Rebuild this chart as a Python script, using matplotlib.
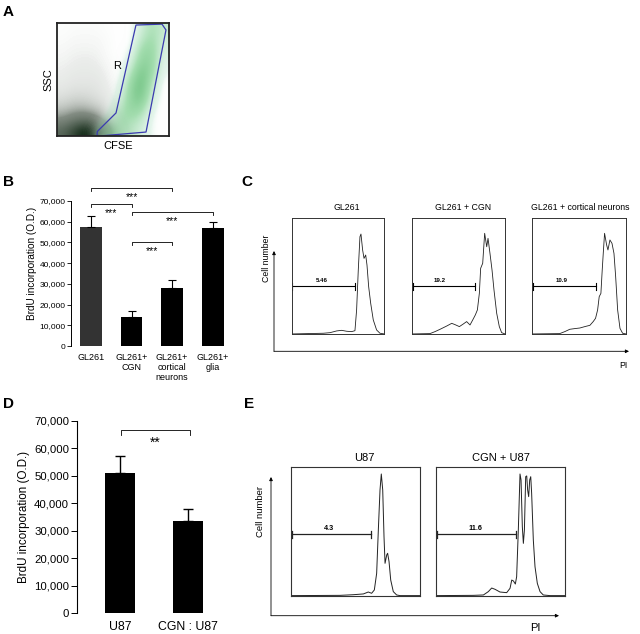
import matplotlib
matplotlib.use("Agg")
import matplotlib.pyplot as plt
import numpy as np
from matplotlib.colors import LinearSegmentedColormap

plt.rcParams['font.family'] = ['Liberation Sans', 'DejaVu Sans']

# ---------------- DATA ----------------
# Panel A: estimated dot density (rows: SSC low->high, cols: CFSE low->high)
a_black = [
    [0.60, 0.80, 1.00, 0.90, 0.50, 0.15, 0.05, 0.02, 0.00, 0.00],
    [0.35, 0.45, 0.50, 0.40, 0.25, 0.08, 0.03, 0.01, 0.00, 0.00],
    [0.20, 0.25, 0.25, 0.20, 0.12, 0.05, 0.02, 0.00, 0.00, 0.00],
    [0.12, 0.15, 0.15, 0.12, 0.08, 0.03, 0.01, 0.00, 0.00, 0.00],
    [0.08, 0.10, 0.10, 0.10, 0.06, 0.03, 0.01, 0.00, 0.00, 0.00],
    [0.06, 0.08, 0.08, 0.08, 0.05, 0.02, 0.00, 0.00, 0.00, 0.00],
    [0.05, 0.06, 0.07, 0.06, 0.04, 0.02, 0.00, 0.00, 0.00, 0.00],
    [0.04, 0.05, 0.05, 0.05, 0.03, 0.01, 0.00, 0.00, 0.00, 0.00],
    [0.03, 0.04, 0.04, 0.04, 0.03, 0.01, 0.00, 0.00, 0.00, 0.00],
    [0.02, 0.03, 0.03, 0.03, 0.02, 0.01, 0.00, 0.00, 0.00, 0.00],
]
a_green = [
    [0, 0, 0, 0.05, 0.30, 0.35, 0.30, 0.20, 0.05, 0],
    [0, 0, 0, 0.00, 0.10, 0.35, 0.40, 0.30, 0.05, 0],
    [0, 0, 0, 0, 0.00, 0.25, 0.50, 0.50, 0.10, 0],
    [0, 0, 0, 0, 0, 0.10, 0.50, 0.70, 0.20, 0],
    [0, 0, 0, 0, 0, 0.05, 0.45, 0.75, 0.30, 0],
    [0, 0, 0, 0, 0, 0.00, 0.30, 0.70, 0.45, 0.05],
    [0, 0, 0, 0, 0, 0, 0.15, 0.55, 0.50, 0.10],
    [0, 0, 0, 0, 0, 0, 0.05, 0.45, 0.50, 0.15],
    [0, 0, 0, 0, 0, 0, 0.00, 0.30, 0.45, 0.20],
    [0, 0, 0, 0, 0, 0, 0.00, 0.20, 0.40, 0.25],
]
gate_x = [0.357, 0.36, 0.527, 0.705, 0.9375, 0.973, 0.795, 0.38]
gate_y = [0.009, 0.04, 0.204, 0.982, 0.99, 0.938, 0.035, 0.0]

# Panel B
b_cats = ["GL261", "GL261+\nCGN", "GL261+\ncortical\nneurons", "GL261+\nglia"]
b_vals = [57500, 14000, 28000, 57000]
b_errs = [5500, 3000, 4000, 3000]
b_colors = ["#333333", "#000000", "#000000", "#000000"]
b_sig = [(0, 2, 76400, "***"), (0, 1, 68550, "***"), (1, 3, 64700, "***"), (1, 2, 50200, "***")]

# Panel C (PI channel, % of max)
c_titles = ["GL261", "GL261 + CGN", "GL261 + cortical neurons"]
c1_x = [0, 342, 414, 486, 540, 594, 647, 683, 701, 719, 737, 748, 766, 781, 799, 813, 831, 853, 881, 917, 953, 1000]
c1_y = [0.3, 0.9, 1.4, 2.9, 3.4, 2.6, 2.3, 3.1, 20.9, 55.1, 83.7, 86.0, 72.3, 65.1, 68.0, 59.4, 40.9, 26.6, 12.3, 3.7, 0.9, 0.3]
c2_x = [0, 196, 250, 304, 375, 429, 464, 511, 554, 589, 625, 654, 682, 704, 725, 739, 761, 782, 804, 818, 839, 861, 882, 911, 939, 964, 1000]
c2_y = [0.3, 0.6, 2.3, 4.3, 7.1, 9.4, 8.3, 6.6, 8.9, 10.9, 8.0, 12.3, 16.6, 20.9, 35.1, 56.6, 60.9, 86.6, 75.1, 82.3, 69.4, 55.1, 38.0, 18.0, 6.6, 1.4, 0.3]
c3_x = [0, 295, 349, 402, 456, 509, 562, 616, 651, 676, 698, 715, 733, 747, 758, 772, 794, 808, 829, 851, 872, 890, 911, 936, 964, 1000]
c3_y = [0.3, 0.6, 2.3, 4.3, 4.9, 5.4, 6.6, 7.7, 10.9, 13.7, 20.9, 32.3, 35.1, 55.1, 69.4, 86.6, 76.6, 72.3, 80.9, 78.0, 69.4, 49.4, 20.9, 5.1, 0.9, 0.3]
c_gates = [(7, 683), (11, 679), (11, 676)]
c_gate_level = 41.4
c_gate_labels = ["5.46", "19.2", "10.9"]
c_gate_label_x = [324, 303, 319]

# Panel D
d_cats = ["U87", "CGN : U87"]
d_vals = [51000, 33700]
d_errs = [6300, 4300]
d_sig = (0, 1, 66700, "**")

# Panel E
e_titles = ["U87", "CGN + U87"]
e1_x = [0, 380, 483, 561, 599, 625, 646, 664, 677, 690, 700, 711, 721, 729, 742, 749, 760, 773, 793, 819, 845, 1000]
e1_y = [0.3, 0.5, 1.0, 1.6, 3.1, 2.1, 4.7, 17.6, 51.3, 82.4, 94.8, 82.4, 46.1, 25.4, 31.9, 33.2, 26.7, 12.4, 3.4, 0.8, 0.3, 0.3]
e2_x = [0, 291, 369, 407, 433, 459, 497, 549, 575, 588, 601, 616, 626, 639, 652, 660, 670, 678, 686, 696, 704, 711, 719, 727, 735, 742, 755, 768, 786, 807, 832, 884, 1000]
e2_y = [0.3, 0.5, 0.8, 3.4, 6.2, 5.2, 3.1, 2.6, 6.0, 12.4, 11.7, 9.3, 15.0, 51.3, 94.8, 90.2, 53.9, 40.9, 51.3, 92.7, 93.3, 82.4, 77.2, 90.2, 92.7, 79.8, 43.5, 22.8, 9.8, 3.4, 0.8, 0.3, 0.3]
e_gates = [(5, 620), (8, 622)]
e_gate_level = 47.9
e_gate_labels = ["4.3", "11.6"]
e_gate_label_x = [297, 304]

# ---------------- FIGURE ----------------
W, H = 640, 634
fig = plt.figure(figsize=(6.4, 6.34), dpi=100)


def pax(x0, y0, x1, y1):
    return fig.add_axes([x0 / W, 1 - y1 / H, (x1 - x0) / W, (y1 - y0) / H])


def sig_bracket(ax, x0, x1, y, drop, label, fs, off):
    ax.plot([x0, x0, x1, x1], [y - drop, y, y, y - drop], color='k', lw=0.6, clip_on=False)
    ax.annotate(label, xy=((x0 + x1) / 2, y), xytext=(0, -off), textcoords='offset points',
                ha='center', va='baseline', fontsize=fs, annotation_clip=False)


# ---- Panel A ----
axA = pax(57, 23, 169, 136)
cm_black = LinearSegmentedColormap.from_list(
    'blk', [(0.0, (1, 1, 1, 0)), (0.06, (0.72, 0.75, 0.72, 0.28)), (0.35, (0.35, 0.4, 0.35, 0.75)),
            (1.0, (0.02, 0.12, 0.04, 1))])
cm_green = LinearSegmentedColormap.from_list(
    'grn', [(0.0, (1, 1, 1, 0)), (0.08, (0.72, 0.9, 0.8, 0.35)), (0.4, (0.45, 0.8, 0.52, 0.65)),
            (1.0, (0.15, 0.6, 0.25, 0.92))])
axA.imshow(np.array(a_black), extent=(0, 1, 0, 1), origin='lower', cmap=cm_black, vmin=0, vmax=1,
           interpolation='bicubic', aspect='auto')
axA.imshow(np.array(a_green), extent=(0, 1, 0, 1), origin='lower', cmap=cm_green, vmin=0, vmax=1,
           interpolation='bicubic', aspect='auto')
axA.fill(gate_x, gate_y, fill=False, edgecolor='#3a3ab0', lw=0.9)
axA.set_xlim(0, 1)
axA.set_ylim(0, 1)
axA.set_xticks([])
axA.set_yticks([])
for s in axA.spines.values():
    s.set_linewidth(1.3)
    s.set_color('#222222')

# ---- Panel B ----
b_ppu = (346 - 201) / 70000.0
b_top = 346 - 80000 * b_ppu
axB = pax(71, b_top, 228, 346)
xb = np.arange(len(b_vals))
axB.bar(xb, b_vals, width=0.54, color=b_colors)
axB.errorbar(xb, b_vals, yerr=[np.zeros(len(b_errs)), b_errs], fmt='none', ecolor='k',
             elinewidth=0.8, capsize=3, capthick=0.8)
axB.set_xlim(-0.494, 3.38)
axB.set_ylim(0, 80000)
for s in ['top', 'right', 'bottom']:
    axB.spines[s].set_visible(False)
axB.spines['left'].set_bounds(0, 70000)
axB.spines['left'].set_linewidth(0.7)
axB.set_yticks(range(0, 70001, 10000))
axB.set_yticklabels([f"{v:,}" if v else "0" for v in range(0, 70001, 10000)], fontsize=6.0)
axB.tick_params(axis='y', length=3, width=0.6, pad=1)
axB.set_xticks(xb)
axB.set_xticklabels(b_cats, fontsize=6.5, linespacing=1.15, va='top')
axB.tick_params(axis='x', length=0, pad=5)
axB.set_ylabel("BrdU incorporation (O.D.)", fontsize=7.2, labelpad=2)
for i0, i1, y, lab in b_sig:
    sig_bracket(axB, i0, i1, y, 1400, lab, 7.5, 8.8)

# ---- Panel C ----
c_boxes = [(291.7, 384.3), (411.7, 505), (532, 626)]
c_curves = [(c1_x, c1_y), (c2_x, c2_y), (c3_x, c3_y)]
c_title_x = [347, 463, 580]
for k, ((x0, x1), (cx, cy)) in enumerate(zip(c_boxes, c_curves)):
    ax = pax(x0, 217.7, x1, 334.3)
    ax.plot(cx, cy, color='#222222', lw=0.6)
    g0, g1 = c_gates[k]
    ax.plot([g0, g1], [c_gate_level, c_gate_level], color='k', lw=0.8)
    ax.plot([g0, g0], [c_gate_level - 3, c_gate_level + 3], color='k', lw=0.8)
    ax.plot([g1, g1], [c_gate_level - 3, c_gate_level + 3], color='k', lw=0.8)
    ax.text(c_gate_label_x[k], c_gate_level + 2.5, c_gate_labels[k], ha='center', va='bottom',
            fontsize=4.4, fontweight='bold')
    ax.set_xlim(0, 1000)
    ax.set_ylim(0, 100)
    ax.set_xticks([])
    ax.set_yticks([])
    for s in ax.spines.values():
        s.set_linewidth(0.7)
        s.set_color('#333333')

# ---- Panel D ----
axD = pax(76.7, 421, 230, 613.3)
xd = np.arange(len(d_vals))
axD.bar(xd, d_vals, width=0.44, color='k')
axD.errorbar(xd, d_vals, yerr=[np.zeros(len(d_errs)), d_errs], fmt='none', ecolor='k',
             elinewidth=1.0, capsize=3.5, capthick=1.0)
axD.set_xlim(-0.637, 1.62)
axD.set_ylim(0, 70000)
for s in ['top', 'right', 'bottom']:
    axD.spines[s].set_visible(False)
axD.spines['left'].set_linewidth(0.8)
axD.set_yticks(range(0, 70001, 10000))
axD.set_yticklabels([f"{v:,}" if v else "0" for v in range(0, 70001, 10000)], fontsize=8.2)
axD.tick_params(axis='y', length=4, width=0.7, pad=1.5)
axD.set_xticks(xd)
axD.set_xticklabels(d_cats, fontsize=8.8)
axD.tick_params(axis='x', length=0, pad=5.5)
axD.set_ylabel("BrdU incorporation (O.D.)", fontsize=8.4, labelpad=3)
sig_bracket(axD, d_sig[0] + 0.01, d_sig[1] + 0.03, d_sig[2], 1800, d_sig[3], 10, 12)

# ---- Panel E ----
e_boxes = [(291, 420), (435.7, 565)]
e_curves = [(e1_x, e1_y), (e2_x, e2_y)]
e_title_x = [364, 500.7]
for k, ((x0, x1), (cx, cy)) in enumerate(zip(e_boxes, e_curves)):
    ax = pax(x0, 467.3, x1, 596)
    ax.plot(cx, cy, color='#222222', lw=0.7)
    g0, g1 = e_gates[k]
    ax.plot([g0, g1], [e_gate_level, e_gate_level], color='#222222', lw=0.9)
    ax.plot([g0, g0], [e_gate_level - 2.5, e_gate_level + 2.5], color='#222222', lw=0.9)
    ax.plot([g1, g1], [e_gate_level - 2.5, e_gate_level + 2.5], color='#222222', lw=0.9)
    ax.text(e_gate_label_x[k], e_gate_level + 2.0, e_gate_labels[k], ha='center', va='bottom',
            fontsize=5.2, fontweight='bold')
    ax.set_xlim(0, 1000)
    ax.set_ylim(0, 100)
    ax.set_xticks([])
    ax.set_yticks([])
    for s in ax.spines.values():
        s.set_linewidth(0.8)
        s.set_color('#333333')

# ---- Overlay (labels, arrows) ----
ov = fig.add_axes([0, 0, 1, 1])
ov.set_xlim(0, W)
ov.set_ylim(H, 0)
ov.axis('off')
ov.patch.set_alpha(0)

for lab, x, y in [("A", 3, 16), ("B", 3, 186), ("C", 241, 186), ("D", 3, 408), ("E", 244, 408)]:
    ov.text(x, y, lab, fontsize=11, fontweight='bold', ha='left', va='baseline')

# A labels
ov.text(48, 80, "SSC", rotation=90, ha='center', va='center', fontsize=8)
ov.text(118, 146, "CFSE", ha='center', va='center', fontsize=8)
ov.text(117, 66, "R", ha='center', va='center', fontsize=8)

# C titles / axes
for t, x in zip(c_titles, c_title_x):
    ov.text(x, 208, t, ha='center', va='center', fontsize=6.3)
ov.annotate("", xy=(274, 251), xytext=(274, 351.3),
            arrowprops=dict(arrowstyle='-|>', lw=0.6, color='k', mutation_scale=5, shrinkA=0, shrinkB=0))
ov.annotate("", xy=(629, 351.3), xytext=(274, 351.3),
            arrowprops=dict(arrowstyle='-|>', lw=0.6, color='k', mutation_scale=5, shrinkA=0, shrinkB=0))
ov.text(266.5, 258, "Cell number", rotation=90, ha='center', va='center', fontsize=6.3)
ov.text(623, 366, "PI", ha='center', va='center', fontsize=6.3)

# E titles / axes
for t, x in zip(e_titles, e_title_x):
    ov.text(x, 457.7, t, ha='center', va='center', fontsize=8)
ov.annotate("", xy=(271, 477), xytext=(271, 615.7),
            arrowprops=dict(arrowstyle='-|>', lw=0.6, color='k', mutation_scale=5, shrinkA=0, shrinkB=0))
ov.annotate("", xy=(559, 615.7), xytext=(271, 615.7),
            arrowprops=dict(arrowstyle='-|>', lw=0.6, color='k', mutation_scale=5, shrinkA=0, shrinkB=0))
ov.text(260.7, 511.7, "Cell number", rotation=90, ha='center', va='center', fontsize=6.8)
ov.text(535, 628, "PI", ha='center', va='center', fontsize=8)

fig.savefig("out.png", dpi=100)
